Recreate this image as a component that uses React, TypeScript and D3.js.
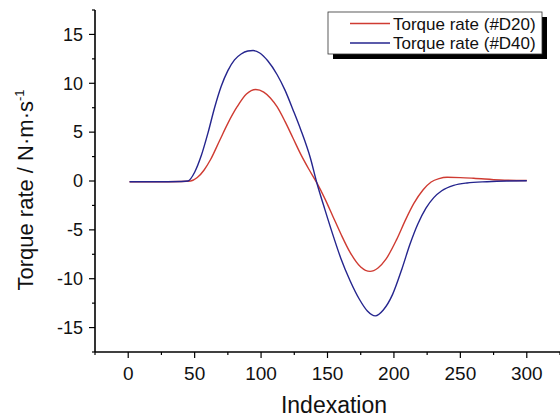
import React from "react";
import * as d3 from "d3";

const xD20: number[] = [1, 20, 40, 47, 52, 57, 62, 69, 75, 82, 89, 96, 102, 107, 112, 118, 124, 130, 136, 142, 148, 154, 160, 167, 175, 182, 188, 194, 202, 209, 215, 222, 228, 234, 240, 250, 260, 280, 300];
const yD20: number[] = [-0.08, -0.08, -0.05, 0, 0.35, 1.1, 2.2, 4.2, 5.9, 7.6, 8.9, 9.36, 9.1, 8.5, 7.6, 6.1, 4.4, 2.7, 1.2, -0.2, -1.8, -3.6, -5.4, -7.3, -8.8, -9.25, -8.9, -8.0, -6.0, -3.9, -2.3, -0.9, -0.1, 0.25, 0.38, 0.35, 0.28, 0.1, 0.05];

const xD40: number[] = [1, 20, 40, 45, 50, 55, 60, 65, 70, 75, 80, 85, 90, 94, 99, 105, 112, 118, 124, 130, 137, 142, 148, 155, 160, 167, 174, 180, 186, 192, 199, 206, 212, 218, 224, 230, 236, 245, 255, 270, 285, 300];
const yD40: number[] = [-0.08, -0.08, -0.05, 0, 0.9, 2.6, 4.9, 7.5, 9.7, 11.3, 12.4, 13.0, 13.3, 13.35, 13.1, 12.3, 10.9, 9.3, 7.3, 5.2, 2.4, -0.2, -2.9, -5.9, -7.9, -10.2, -12.1, -13.3, -13.8, -13.2, -11.6, -9.0, -6.5, -4.4, -2.8, -1.7, -1.0, -0.45, -0.2, -0.07, 0, 0.02];

const seriesNames: string[] = ["Torque rate (#D20)", "Torque rate (#D40)"];
const seriesColors: string[] = ["#cf3b32", "#25258e"];
const xTicks: number[] = [0, 50, 100, 150, 200, 250, 300];
const yTicks: number[] = [-15, -10, -5, 0, 5, 10, 15];
const xTitle = "Indexation";

export default function App() {
  const W = 560, H = 419;
  const x = d3.scaleLinear().domain([-25, 325]).range([95, 560]);
  const y = d3.scaleLinear().domain([-17.5, 17.5]).range([352, 10]);
  const line = d3
    .line<[number, number]>()
    .x((d) => x(d[0]))
    .y((d) => y(d[1]))
    .curve(d3.curveMonotoneX);
  const series = [
    xD20.map((v, i) => [v, yD20[i]] as [number, number]),
    xD40.map((v, i) => [v, yD40[i]] as [number, number]),
  ];
  const xMinor = d3.range(-25, 326, 25).filter((v) => !xTicks.includes(v));
  const yMinor = d3.range(-17.5, 17.6, 2.5).filter((v) => !yTicks.includes(v));
  const font = "Liberation Sans, Arial, sans-serif";
  const x0 = x(-25), y0 = y(-17.5);
  const lx = 328, ly = 12, lw = 214, lh = 42;
  return (
    <svg width={W} height={H} style={{ position: "absolute", left: 0, top: 0, background: "#fff" }} fontFamily={font}>
      {series.map((s, i) => (
        <path key={i} d={line(s) || ""} fill="none" stroke={seriesColors[i]} strokeWidth={1.4} />
      ))}
      {/* axes */}
      <line x1={x0} x2={x0} y1={y(17.5)} y2={y0} stroke="#000" strokeWidth={1.6} />
      <line x1={x0} x2={x(325)} y1={y0} y2={y0} stroke="#000" strokeWidth={1.6} />
      {yTicks.map((t) => (
        <g key={"yt" + t}>
          <line x1={x0 - 6} x2={x0} y1={y(t)} y2={y(t)} stroke="#000" strokeWidth={1.2} />
          <text x={x0 - 12} y={y(t)} dy="0.35em" textAnchor="end" fontSize={18} fill="#111">
            {t}
          </text>
        </g>
      ))}
      {yMinor.map((t) => (
        <line key={"ym" + t} x1={x0 - 3} x2={x0} y1={y(t)} y2={y(t)} stroke="#000" strokeWidth={1.2} />
      ))}
      {xTicks.map((t) => (
        <g key={"xt" + t}>
          <line x1={x(t)} x2={x(t)} y1={y0} y2={y0 + 6} stroke="#000" strokeWidth={1.2} />
          <text x={x(t)} y={380} textAnchor="middle" fontSize={19} fill="#111">
            {t}
          </text>
        </g>
      ))}
      {xMinor.map((t) => (
        <line key={"xm" + t} x1={x(t)} x2={x(t)} y1={y0} y2={y0 + 3} stroke="#000" strokeWidth={1.2} />
      ))}
      <text x={334} y={413} textAnchor="middle" fontSize={23} fill="#111">
        {xTitle}
      </text>
      <text transform={`translate(33,190) rotate(-90)`} textAnchor="middle" fontSize={22} fill="#111">
        Torque rate / N·m·s<tspan dy="-9" fontSize={13}>-1</tspan>
      </text>
      {/* legend */}
      <rect x={lx + 5} y={ly + 5} width={lw} height={lh} fill="#000" />
      <rect x={lx} y={ly} width={lw} height={lh} fill="#fff" stroke="#333" strokeWidth={0.8} />
      {seriesNames.map((n, i) => (
        <g key={n}>
          <line x1={350} x2={390} y1={ly + 11.5 + i * 19.5} y2={ly + 11.5 + i * 19.5} stroke={seriesColors[i]} strokeWidth={1.4} />
          <text x={393} y={ly + 11.5 + i * 19.5} dy="0.36em" fontSize={17} fill="#111">
            {n}
          </text>
        </g>
      ))}
    </svg>
  );
}
